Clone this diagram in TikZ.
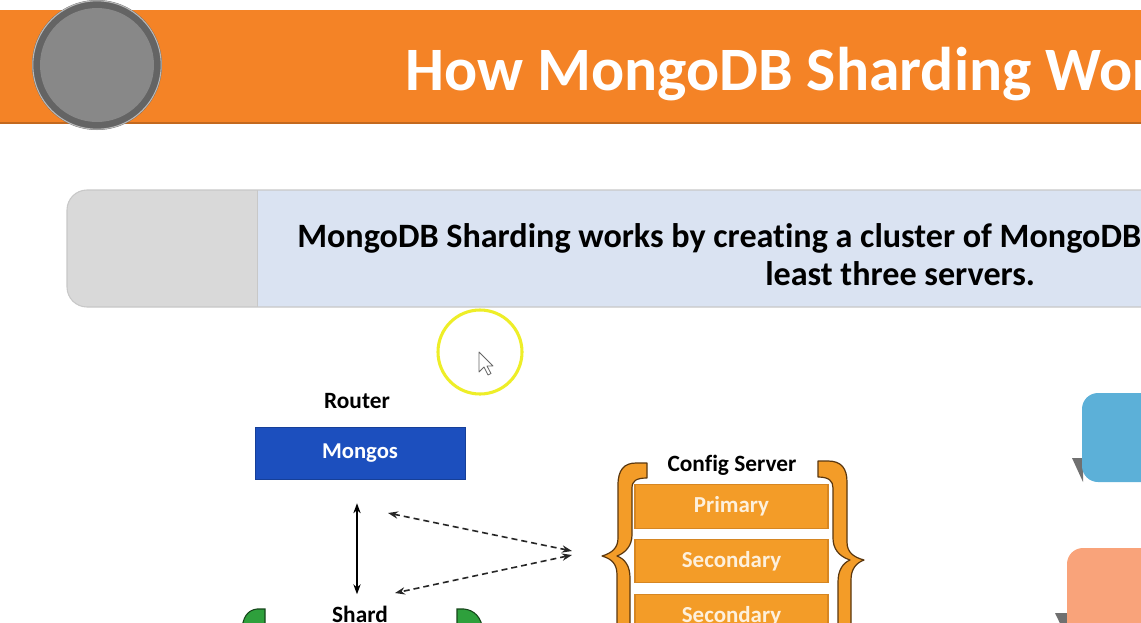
\documentclass[tikz,border=0pt]{standalone}
\usepackage{fontspec}
\setmainfont{Carlito}[Ligatures={NoCommon}]
\usepackage{xcolor}
\usetikzlibrary{arrows.meta,positioning}

\definecolor{bannerorange}{RGB}{244,131,38}
\definecolor{ringgray}{RGB}{100,100,100}
\definecolor{discgray}{RGB}{136,136,136}
\definecolor{descgray}{RGB}{217,217,217}
\definecolor{descblue}{RGB}{218,227,242}
\definecolor{descedge}{RGB}{200,200,200}
\definecolor{mongosblue}{RGB}{28,79,190}
\definecolor{cfgorange}{RGB}{243,156,40}
\definecolor{cfgedge}{RGB}{214,134,34}
\definecolor{cfgtext}{RGB}{253,240,220}
\definecolor{braceedge}{RGB}{90,55,15}
\definecolor{hiyellow}{RGB}{238,238,40}
\definecolor{shardgreen}{RGB}{46,160,60}
\definecolor{greenedge}{RGB}{20,70,25}
\definecolor{calloutblue}{RGB}{92,176,216}
\definecolor{calloutsalmon}{RGB}{249,163,122}
\definecolor{shadowgray}{RGB}{112,112,112}

\begin{document}
\begin{tikzpicture}[x=0.75pt,y=0.75pt,yscale=-1,xscale=1,
  lbl/.style={font=\bfseries\fontsize{17.5}{21}\selectfont, text=black},
  cfgbox/.style={draw=cfgedge, fill=cfgorange, line width=0.8pt, minimum width=144.75pt, minimum height=32.5pt, inner sep=0pt, text=cfgtext, font=\bfseries\fontsize{17.2}{20}\selectfont},
  dblarrow/.style={{Stealth[length=7.5pt,width=5.5pt]}-{Stealth[length=7.5pt,width=5.5pt]}, line width=1pt},
  dasharrow/.style={{Stealth[length=7.5pt,width=5.5pt]}-{Stealth[length=7.5pt,width=5.5pt]}, line width=1.2pt, dash pattern=on 4.5pt off 3pt, black!85},
  bracefill/.style={fill=cfgorange, draw=braceedge, line width=0.9pt, line join=round}
]
\useasboundingbox (0,0) rectangle (1141,622);
\clip (0,0) rectangle (1141,622);
\fill[white] (0,0) rectangle (1141,622);

%Shape: Banner
\fill[bannerorange] (0,10) rectangle (1141,123);
\draw[bannerorange!80!black, line width=0.8pt] (0,123) -- (1141,123);
%Shape: Circle
\fill[ringgray] (97,65) circle (65);
\fill[discgray] (97,65) circle (57);
\draw[white!55!ringgray, line width=0.8pt] (97,65) circle (64.2);
\node[anchor=base west, text=white, font=\bfseries\fontsize{46.3}{56}\selectfont, inner sep=0pt] (title) at (405,90) {How MongoDB Sharding Wor};

%Shape: Description box
\fill[descgray, rounded corners=15] (67,190) rectangle (1160,307);
\fill[descblue] (257,190) rectangle (1141,307);
\draw[descedge, line width=0.8pt, rounded corners=15] (1160,190) -- (67,190) -- (67,307) -- (1160,307);
\draw[descedge, line width=0.6pt] (257,190) -- (257,307);
\node[anchor=base west, inner sep=0pt, font=\bfseries\fontsize{25.6}{30}\selectfont] (desc) at (297,247) {MongoDB Sharding works by creating a cluster of MongoDB};
\node[anchor=base west, inner sep=0pt, font=\bfseries\fontsize{25.6}{30}\selectfont] (desctwo) at (765,285) {least three servers.};

%Shape: Highlight and cursor
\draw[hiyellow, line width=2.3pt] (480,352) circle (42);
\filldraw[fill=white, draw=black!60, line width=0.6pt, line join=round] (479,352) -- (479,372) -- (484,367) -- (488,375) -- (491,373.5) -- (487,366) -- (493,366) -- cycle;

%Router
\node[lbl] (router) at (357,401) {Router};
\node[draw=mongosblue!80!black, fill=mongosblue, minimum width=157.5pt, minimum height=39pt, inner sep=0pt, text=white, font=\bfseries\fontsize{17}{20}\selectfont] (mongos) at (360,453) {Mongos};
\node[lbl, anchor=base] (shard) at (360,622) {Shard};

%Straight Lines
\draw[dblarrow, shorten <=18pt, shorten >=5pt] ([xshift=-2.25pt]mongos.south) -- ([xshift=-2.25pt]shard.north);
\coordinate (rtop) at (388,513);
\coordinate (rbot) at (395,593);
\coordinate (cfgtipa) at (572,551);
\coordinate (cfgtipb) at (572,555);
\draw[dasharrow] (rtop) -- (cfgtipa);
\draw[dasharrow] (cfgtipb) -- (rbot);

%Shape: Shard braces
\filldraw[fill=shardgreen, draw=greenedge, line width=0.8pt] (265,609) -- (257,609) .. controls (248,610) and (242,617) .. (242,632) -- (265,632) -- cycle;
\filldraw[fill=shardgreen, draw=greenedge, line width=0.8pt] (457,609) -- (464,609) .. controls (474,610) and (482,617) .. (483,632) -- (457,632) -- cycle;

%Config server
\node[lbl] (cfglbl) at (732,465) {Config Server};
\node[cfgbox] (primary) at (731.5,506.5) {Primary};
\node[cfgbox] (secondarya) at (731.5,561) {Secondary};
\node[cfgbox] (secondaryb) at (731.5,616) {Secondary};
%Shape: Left brace
\draw[bracefill] (647,463) -- (636,463) .. controls (624,463) and (618,470) .. (618,485) -- (618,538) .. controls (618,548) and (612,553) .. (602,556) .. controls (612,559) and (617,564) .. (617,575) -- (617,640) -- (630,640) -- (630,578) .. controls (630,566) and (625,559) .. (617,556) .. controls (625,553) and (632,546) .. (632,535) -- (632,488) .. controls (632,481) and (636,478) .. (647,478) -- cycle;
%Shape: Right brace
\draw[bracefill] (818,461) -- (828,461) .. controls (841,461) and (847,468) .. (847,482) -- (847,542) .. controls (847,552) and (853,557) .. (864,560) .. controls (856,563) and (851,569) .. (851,580) -- (851,640) -- (838,640) -- (838,582) .. controls (838,570) and (843,563) .. (850,560) .. controls (838,556) and (833,548) .. (833,538) -- (833,488) .. controls (833,481) and (829,477) .. (818,477) -- cycle;

%Shape: Callouts
\fill[shadowgray] (1072,458) -- (1083,458) -- (1083,482) -- cycle;
\fill[calloutblue, rounded corners=12] (1082,482) -- (1082,393) -- (1160,393) -- (1160,482) -- cycle;
\fill[shadowgray] (1055,613) -- (1068,613) -- (1068,640) -- cycle;
\fill[calloutsalmon, rounded corners=12] (1067,640) -- (1067,548) -- (1160,548) -- (1160,640) -- cycle;
\end{tikzpicture}
\end{document}
